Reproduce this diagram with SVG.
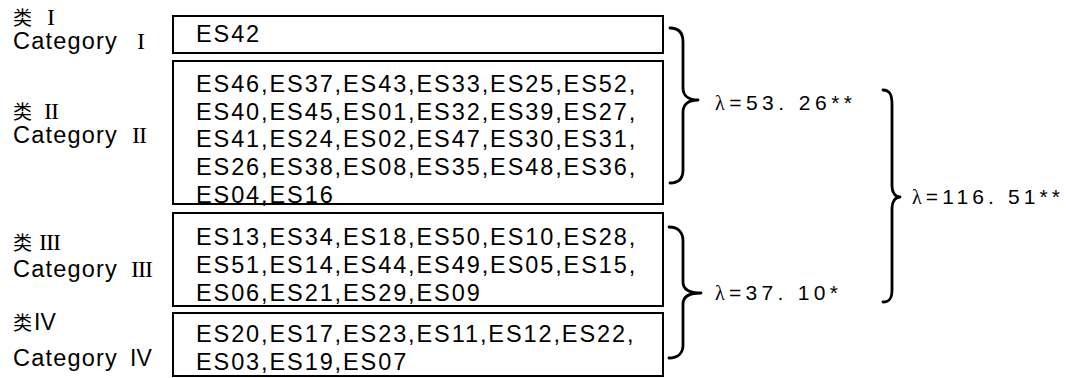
<svg xmlns="http://www.w3.org/2000/svg" width="1066" height="378" viewBox="0 0 1066 378">
<style>
.bg{fill:#fff}
.box{fill:#fff;stroke:#000;stroke-width:2}
.es{font-family:"Liberation Sans",Arial,sans-serif;font-size:23.5px;letter-spacing:1.9px;fill:#000}
.cat{font-family:"Liberation Sans",Arial,sans-serif;font-size:23.5px;letter-spacing:1.2px;fill:#000}
.cjk{font-family:"Noto Sans CJK SC",sans-serif;font-size:19px;fill:#000}
.rom{font-family:"Liberation Serif","Times New Roman",serif;font-size:24px;fill:#000}
.romS{font-family:"Liberation Sans",Arial,sans-serif;font-size:23px;fill:#000}
.brace{fill:none;stroke:#000;stroke-width:2.8;stroke-linecap:round;stroke-linejoin:round}
.lam{font-family:"Liberation Sans","Noto Sans CJK JP",sans-serif;font-size:21px;fill:#000}
.lamg{font-family:"Liberation Serif",serif;font-size:20px}
</style>
<rect class="bg" x="0" y="0" width="1066" height="378"/>

<g id="label-1">
<text x="13" y="25" class="cjk">类</text><text x="47" y="25" class="rom">I</text>
<text x="13" y="49" class="cat">Category</text><text x="137" y="49" class="rom">I</text>
</g>
<g id="label-2">
<text x="13" y="119" class="cjk">类</text><text x="44" y="119" class="rom" letter-spacing="-1">II</text>
<text x="13" y="143" class="cat">Category</text><text x="132" y="143" class="rom" letter-spacing="-1">II</text>
</g>
<g id="label-3">
<text x="13" y="250" class="cjk">类</text><text x="39" y="250" class="rom" letter-spacing="-1">III</text>
<text x="13" y="277" class="cat">Category</text><text x="131" y="277" class="rom" letter-spacing="-1">III</text>
</g>
<g id="label-4">
<text x="13" y="330" class="cjk">类</text><text x="34" y="330" class="romS">IV</text>
<text x="13" y="366" class="cat">Category</text><text x="130" y="366" class="romS">IV</text>
</g>

<g id="node-1">
<rect class="box" x="173" y="16" width="490" height="37"/>
<text class="es" x="196" y="42">ES42</text>
</g>
<g id="node-2">
<rect class="box" x="173" y="61" width="490" height="143"/>
<text class="es" x="196" y="92">ES46,ES37,ES43,ES33,ES25,ES52,</text>
<text class="es" x="196" y="120">ES40,ES45,ES01,ES32,ES39,ES27,</text>
<text class="es" x="196" y="147">ES41,ES24,ES02,ES47,ES30,ES31,</text>
<text class="es" x="196" y="175">ES26,ES38,ES08,ES35,ES48,ES36,</text>
<text class="es" x="196" y="203">ES04,ES16</text>
</g>
<g id="node-3">
<rect class="box" x="173" y="213" width="490" height="93"/>
<text class="es" x="196" y="245">ES13,ES34,ES18,ES50,ES10,ES28,</text>
<text class="es" x="196" y="273">ES51,ES14,ES44,ES49,ES05,ES15,</text>
<text class="es" x="196" y="301">ES06,ES21,ES29,ES09</text>
</g>
<g id="node-4">
<rect class="box" x="173" y="313" width="490" height="63"/>
<text class="es" x="196" y="342">ES20,ES17,ES23,ES11,ES12,ES22,</text>
<text class="es" x="196" y="370">ES03,ES19,ES07</text>
</g>

<g id="connectors">
<path class="brace" d="M670,28 C679,28 683,33 683,42 L683,88 C683,95 688,100 698,100 C688,100 683,105 683,112 L683,170 C683,178 679,183 670,183"/>
<path class="brace" d="M669,227 C678,227 683,232 683,241 L683,282 C683,289 689,293 701,293 C689,293 683,297 683,304 L683,345 C683,353 678,358 669,358"/>
<path class="brace" d="M883,90 C890,90 892,95 892,104 L892,186 C892,192 895,197 900,197 C895,197 892,202 892,208 L892,290 C892,298 890,302 883,302"/>
</g>

<g id="stat-1">
<text class="lam" x="715" y="110" textLength="137" lengthAdjust="spacing"><tspan class="lamg">λ</tspan>=53. 26**</text>
</g>
<g id="stat-2">
<text class="lam" x="715" y="300" textLength="123" lengthAdjust="spacing"><tspan class="lamg">λ</tspan>=37. 10*</text>
</g>
<g id="stat-3">
<text class="lam" x="912" y="204" textLength="148" lengthAdjust="spacing"><tspan class="lamg">λ</tspan>=116. 51**</text>
</g>
</svg>
